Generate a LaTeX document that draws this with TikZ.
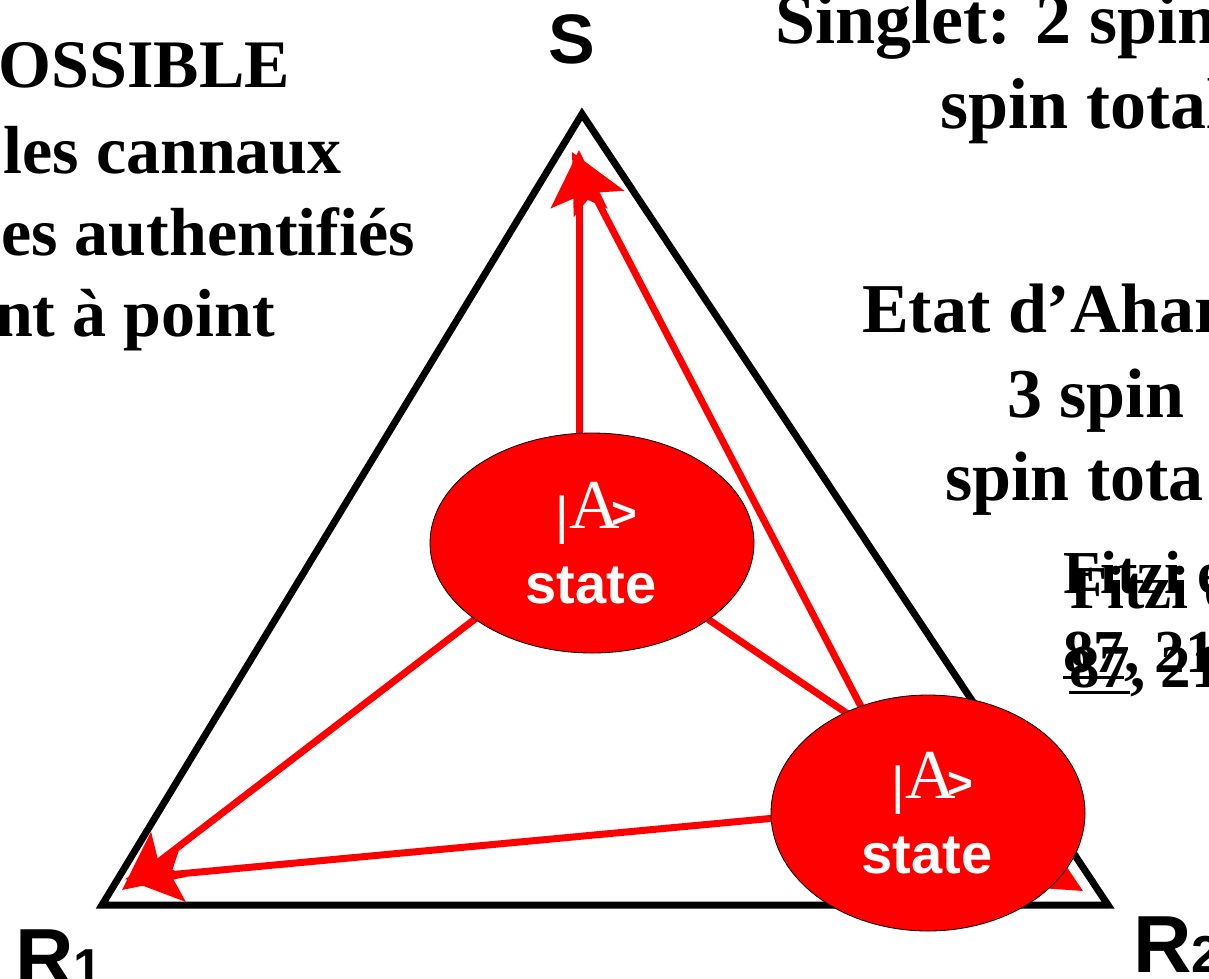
\documentclass[tikz,border=0pt]{standalone}
\usepackage{fontspec}
\setmainfont{Liberation Serif}
\setsansfont{Liberation Sans}
\usetikzlibrary{arrows.meta,calc,shapes.geometric,backgrounds}
\newcommand{\myul}[1]{\setbox0\hbox{#1}\rlap{\rule[-7pt]{\wd0}{3.5pt}}\box0}
\begin{document}
\begin{tikzpicture}[x=1pt,y=-1pt,
  tri/.style={draw=black, line width=7pt, line join=miter},
  link/.style={draw=red, line width=7pt},
  arr/.style={link, -{Stealth[length=58pt,width=56pt,inset=12pt]}},
  stateell/.style={ellipse, fill=red, draw=black, line width=0.8pt, inner sep=0},
  lefttxt/.style={font=\fontsize{68}{80}\selectfont\bfseries, inner sep=0, anchor=base east},
  righttxt/.style={font=\fontsize{#1}{80}\selectfont\bfseries, inner sep=0, anchor=base west},
  fitz/.style={font=\fontsize{61}{70}\selectfont\bfseries, inner sep=0, anchor=base west},
  lab/.style={font=\fontsize{#1}{#1}\selectfont\sffamily\bfseries, inner sep=0},
  ket/.style={text=white, inner sep=0, anchor=base},
  stxt/.style={text=white, font=\fontsize{56}{56}\selectfont\sffamily\bfseries, inner sep=0, anchor=base}
]
\path[use as bounding box] (0,0) rectangle (1209,978);

% corners
\coordinate (S) at (582,114);
\coordinate (R1) at (102,905);
\coordinate (R2) at (1108,905);

% state ellipses
\node[stateell, minimum width=324pt, minimum height=220pt] (e1) at (592,543) {};
\node[stateell, minimum width=314pt, minimum height=236pt] (e2) at (928,813) {};

\foreach \e in {e1,e2}{
  \node[ket] at ($(\e.center)+(4,-15)$) {\raisebox{-5pt}{\fontsize{52}{52}\selectfont\sffamily |}\hspace{1pt}{\fontsize{70}{70}\selectfont A}\hspace{-9pt}{\fontsize{44}{44}\selectfont\sffamily\bfseries >}};
  \node[stxt] at ($(\e.center)+(-1,60)$) {state};
}

% arrow end points
\coordinate (a1) at (579,540);
\coordinate (tS1) at (579,150);
\coordinate (a2) at (905,791);
\coordinate (tS2) at (572,152);
\coordinate (a3) at (570,546);
\coordinate (tR1a) at (122,890);
\coordinate (a4) at (850,811);
\coordinate (tR1b) at (125,879);
\coordinate (a5) at (960,820);
\coordinate (tR2) at (1083,891);
\coordinate (c1) at (690,607);
\coordinate (c2) at (870,729);

\begin{scope}[on background layer]
  \draw[tri] (S) -- (R1) -- (R2) -- cycle;
  \draw[arr] (a1) -- (tS1);
  \draw[arr] (a2) -- (tS2);
  \draw[arr] (a3) -- (tR1a);
  \draw[arr] (a4) -- (tR1b);
  \draw[arr] (a5) -- (tR2);
  \draw[link] (c1) -- (c2);
\end{scope}

% corner labels
\node[lab=70, anchor=base] (Sl) at (572,63) {S};
\node[lab=81, anchor=base west] (R1l) at (15,985) {R{\fontsize{52}{52}\selectfont 1}};
\node[lab=81, anchor=base west] (R2l) at (1133,972) {R{\fontsize{52}{52}\selectfont 2}};

% left text
\node[lefttxt] (l1) at (290,87) {OSSIBLE};
\node[lefttxt] (l2) at (342,173) {les cannaux};
\node[lefttxt] (l3) at (415,255) {es authentifiés};
\node[lefttxt] (l4) at (275,336) {nt à point};

% right text
\node[righttxt=72] (r1) at (775,43) {Singlet: 2 spin};
\node[righttxt=72] (r2) at (940,128) {spin total};
\node[righttxt=70] (r3) at (862,332) {Etat d’Ahar};
\node[righttxt=70] (r4) at (1007,417) {3 spin};
\node[righttxt=70] (r5) at (945,500) {spin tota};

% reference (doubled)
\node[fitz] (f1) at (1063,593) {Fitzi e};
\node[fitz] (f2) at (1063,672) {\myul{87}, 21};
\node[fitz] (f3) at (1070,608) {Fitzi e};
\node[fitz] (f4) at (1069,687) {\myul{87}, 21};
\end{tikzpicture}
\end{document}
